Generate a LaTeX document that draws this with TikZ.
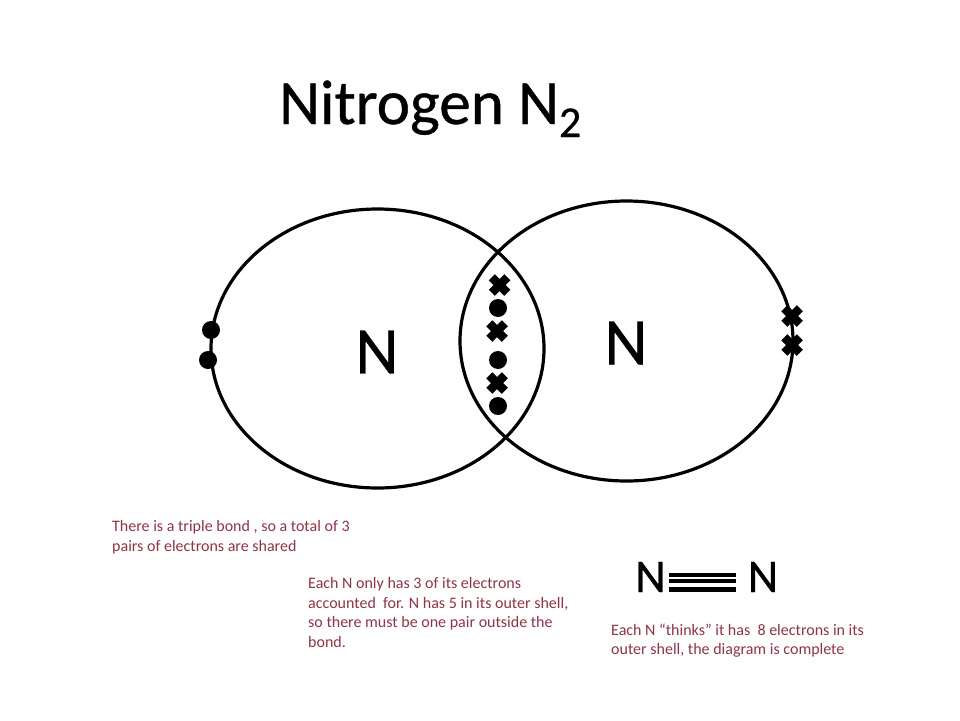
\documentclass[tikz,border=0pt]{standalone}
\usepackage{fontspec}
\setmainfont{Carlito}
\newfontfamily\heavy[FakeBold=0.6]{Carlito}
\usetikzlibrary{shapes.misc}
\definecolor{note}{HTML}{8F3546}
\tikzset{
  x=1pt,y=-1pt,
  shell/.style={draw=black,line width=3.2pt,fill=none},
  dotel/.style={circle,fill=black,draw=none,minimum size=18pt,inner sep=0pt},
  crossel/.style={cross out,draw=black,line width=8.5pt,minimum size=15.5pt,inner sep=0pt,outer sep=0pt},
  atom/.style={inner sep=0pt,font=\heavy\fontsize{67}{67}\selectfont},
  smallatom/.style={inner sep=0pt,font=\heavy\fontsize{47}{47}\selectfont},
  notetext/.style={inner sep=0pt,anchor=north west,align=left,text=note,font=\fontsize{16}{19.7}\selectfont},
  bond/.style={draw=black,line width=4pt,shorten <=3pt,shorten >=12pt},
}
\begin{document}
\begin{tikzpicture}
\useasboundingbox[fill=white] (0,0) rectangle (960,720);
\node[inner sep=0pt,anchor=base west,font=\heavy\fontsize{63.2}{64}\selectfont] (title) at (279,124) {Nitrogen N\raisebox{-13pt}{\fontsize{44}{44}\selectfont 2}};
\draw[shell] (377.5,348.5) ellipse [x radius=166.5,y radius=139.5];
\draw[shell] (626.5,341) ellipse [x radius=166.5,y radius=140];
\node[atom] (n1) at (377,352) {N};
\node[atom] (n2) at (626,343) {N};
\node[dotel] (l1) at (211,330) {};
\node[dotel] (l2) at (208,360) {};
\node[crossel] (r1) at (792,316) {};
\node[crossel] (r2) at (792,345) {};
\node[crossel] (s1) at (499.5,285) {};
\node[dotel] (s2) at (498,308) {};
\node[crossel] (s3) at (497,331) {};
\node[dotel] (s4) at (498,360) {};
\node[crossel] (s5) at (497,383) {};
\node[dotel] (s6) at (498,406) {};
\node[smallatom] (a) at (650.5,577) {N};
\node[smallatom] (b) at (763,577) {N};
\draw[bond,line width=4.5pt] ([yshift=-12.7pt]a.east) -- ([yshift=-12.7pt]b.west);
\draw[bond,line width=3.5pt] ([yshift=-4pt]a.east) -- ([yshift=-4pt]b.west);
\draw[bond] ([yshift=1.7pt]a.east) -- ([yshift=1.7pt]b.west);
\node[notetext] (t1) at (112,520) {There is a triple bond , so a total of 3\\pairs of electrons are shared};
\node[notetext] (t2) at (308,577) {Each N only has 3 of its electrons\\accounted\ \ for. N has 5 in its outer shell,\\so there must be one pair outside the\\bond.};
\node[notetext] (t3) at (611,623.5) {Each N “thinks” it has\ \ 8 electrons in its\\outer shell, the diagram is complete};
\end{tikzpicture}
\end{document}
